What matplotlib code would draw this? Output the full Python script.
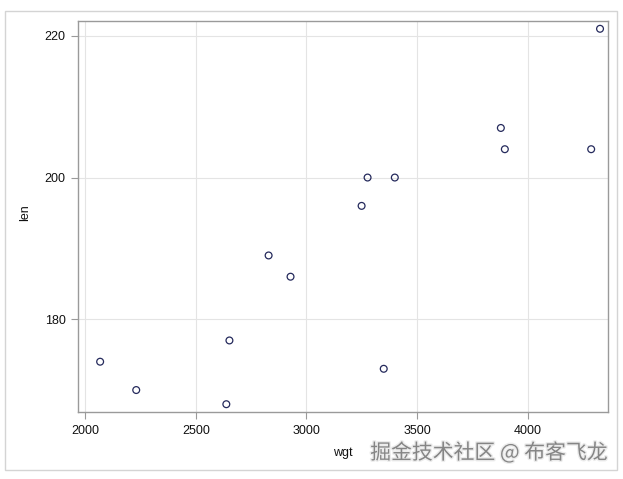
import matplotlib
matplotlib.use("Agg")
import matplotlib.pyplot as plt
import matplotlib.patheffects as pe
from matplotlib.patches import Rectangle

# data
wgt = [2068, 2231, 2638, 2652, 2829, 2928, 3249, 3276, 3399, 3349, 3878, 3896, 4286, 4326]
length = [174, 170, 168, 177, 189, 186, 196, 200, 200, 173, 207, 204, 204, 221]
xticks = [2000, 2500, 3000, 3500, 4000]
yticks = [180, 200, 220]

plt.rcParams['font.family'] = ['Liberation Sans', 'DejaVu Sans']

W, H = 623, 479
fig = plt.figure(figsize=(W / 100, H / 100), dpi=100)

# outer frame around the whole graph
fig.patches.append(Rectangle((5 / W, 1 - 470 / H), 612 / W, 459 / H,
                             transform=fig.transFigure, fill=False,
                             edgecolor="#d4d4d4", linewidth=1.0))

ax = fig.add_axes([78 / W, 1 - 412 / H, 530 / W, 391 / H])
ax.scatter(wgt, length, s=24, facecolors="none", edgecolors="#252a5c",
           linewidths=0.9, zorder=3)

ax.set_xlim(1968, 4362)
ax.set_ylim(166.9, 222.1)
ax.set_xticks(xticks)
ax.set_yticks(yticks)
ax.grid(True, color="#e4e4e4", linewidth=0.8)
ax.set_axisbelow(True)
for s in ax.spines.values():
    s.set_color("#9a9a9a")
    s.set_linewidth(1.0)
ax.tick_params(direction="out", length=5, width=0.8, color="#9a9a9a",
               labelsize=9, labelcolor="#111111", pad=4)

fig.text(343 / W, 1 - 453 / H, "wgt", ha="center", va="center", fontsize=9, color="#111111")
fig.text(25 / W, 1 - 213 / H, "len", ha="center", va="center", rotation=90,
         fontsize=9, color="#111111")

# watermark
fig.text(608 / W, 1 - 453 / H, "掘金技术社区 @ 布客飞龙", ha="right", va="center",
         fontsize=15, color="#858585", family=["Noto Sans CJK SC", "DejaVu Sans"],
         path_effects=[pe.withStroke(linewidth=2, foreground="#ececec")])

fig.savefig("out.png", dpi=100)
